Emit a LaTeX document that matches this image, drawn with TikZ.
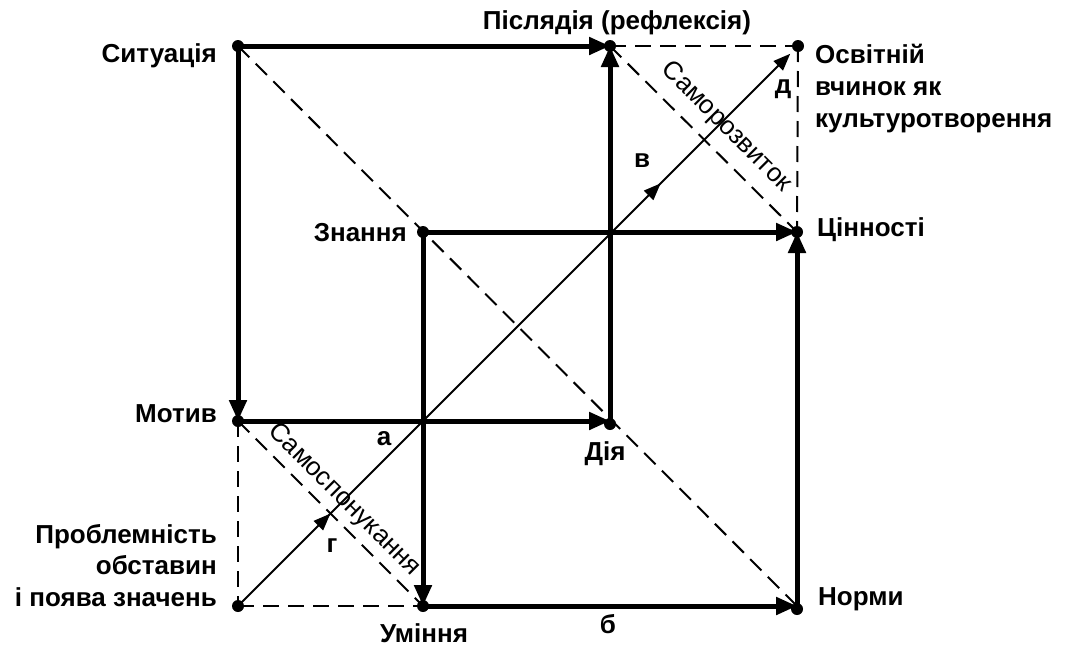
\documentclass[tikz,border=0pt]{standalone}
\usepackage{fontspec}
\setmainfont{Liberation Sans}
\usetikzlibrary{arrows.meta,decorations.markings}
\begin{document}
\begin{tikzpicture}[x=1pt,y=-1pt,
  lbl/.style={font=\fontsize{26}{32}\selectfont\bfseries, inner sep=0pt},
  rlbl/.style={font=\fontsize{26}{32}\selectfont, inner sep=0pt},
  thickarr/.style={line width=5pt, -{Triangle[length=21pt,width=17pt]}},
  dashline/.style={line width=2pt, dash pattern=on 16pt off 9pt},
  thinline/.style={line width=2pt},
  thintip/.style={-{Triangle[length=17pt,width=13pt]}},
  dot/.style={circle, fill=black, inner sep=0pt, minimum size=12pt}]
\useasboundingbox (0,0) rectangle (1068,648);

% points
\coordinate (S) at (238,46);
\coordinate (P) at (610,46);
\coordinate (O) at (798,46);
\coordinate (Z) at (423,232);
\coordinate (C) at (797,232);
\coordinate (M) at (238,421);
\coordinate (D) at (610,421);
\coordinate (Pr) at (238,606);
\coordinate (U) at (423,606);
\coordinate (N) at (797,606);

% dashed lines
\draw[dashline] (S) -- (N);
\draw[dashline] (P) -- (C);
\draw[dashline] (M) -- (U);
\draw[dashline] (P) -- (O);
\draw[dashline] (O) -- (C);
\draw[dashline] (M) -- (Pr);
\draw[dashline] (Pr) -- (U);

% thin diagonal
\draw[thinline, thintip, shorten >=11pt,
  postaction={decorate},
  decoration={markings,
    mark=at position 0.165 with {\arrow{Triangle[length=17pt,width=13pt]}},
    mark=at position 0.755 with {\arrow{Triangle[length=17pt,width=13pt]}}}]
  (Pr) -- (O);

% thick arrows
\draw[thickarr] (S) -- (P);
\draw[thickarr] (S) -- (M);
\draw[thickarr] (M) -- (D);
\draw[thickarr] (D) -- (P);
\draw[thickarr] (Z) -- (C);
\draw[thickarr] (Z) -- (U);
\draw[thickarr] (U) -- (N);
\draw[thickarr] (N) -- (C);

% dots
\node[dot] (dS) at (S) {};
\node[dot] (dP) at (P) {};
\node[dot] (dO) at (O) {};
\node[dot] (dZ) at (Z) {};
\node[dot] (dC) at (C) {};
\node[dot] (dM) at (M) {};
\node[dot] (dD) at ([yshift=-3pt]D) {};
\node[dot] (dPr) at (Pr) {};
\node[dot] (dU) at (U) {};
\node[dot] (dN) at ([yshift=-3pt]N) {};

% labels
\node[lbl, anchor=base east] (tS) at (217,62) {Ситуація};
\node[lbl, anchor=base] (tP) at (617,29) {Післядія (рефлексія)};
\node[lbl, anchor=base west] (tO1) at (815,63) {Освітній};
\node[lbl, anchor=base west] (tO2) at (815,95) {вчинок як};
\node[lbl, anchor=base west] (tO3) at (815,127) {культуротворення};
\node[lbl, anchor=base east] (tZ) at (407,241) {Знання};
\node[lbl, anchor=base west] (tC) at (817,236) {Цінності};
\node[lbl, anchor=base east] (tM) at (217,422) {Мотив};
\node[lbl, anchor=base] (tD) at (605,460) {Дія};
\node[lbl, anchor=base east] (tPr1) at (217,543) {Проблемність};
\node[lbl, anchor=base east] (tPr2) at (217,574) {обставин};
\node[lbl, anchor=base east] (tPr3) at (217,606) {і поява значень};
\node[lbl, anchor=base] (tU) at (424,642) {Уміння};
\node[lbl, anchor=base west] (tN) at (818,605) {Норми};
\node[lbl, anchor=base] (la) at (384,445) {а};
\node[lbl, anchor=base] (lb) at (608,633) {б};
\node[lbl, anchor=base] (lv) at (642,167) {в};
\node[lbl, anchor=base] (lg) at (332,552) {г};
\node[lbl, anchor=base] (ld) at (783,93) {д};
\node[rlbl, rotate=-45] (rs1) at (344,500) {Самоспонукання};
\node[rlbl, rotate=-45] (rs2) at (726,127) {Саморозвиток};
\end{tikzpicture}
\end{document}
